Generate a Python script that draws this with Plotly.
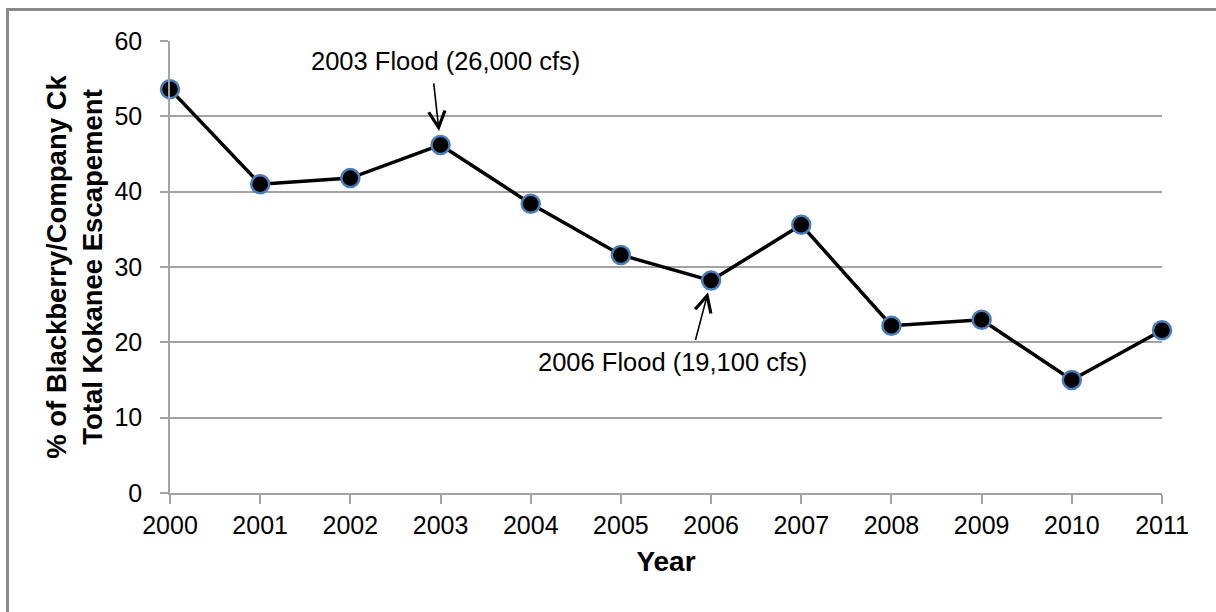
import plotly.graph_objects as go

# Share of total kokanee escapement counted in Blackberry/Company Creek, by year
years = [2000, 2001, 2002, 2003, 2004, 2005, 2006, 2007, 2008, 2009, 2010, 2011]
pct_escapement = [53.6, 41.0, 41.8, 46.2, 38.4, 31.6, 28.2, 35.6, 22.2, 23.0, 15.0, 21.6]

y_ticks = [0, 10, 20, 30, 40, 50, 60]

flood_notes = [
    # (year of flood, label, label x, label y, arrow tail offset px, standoff px)
    (2003, "2003 Flood (26,000 cfs)", 2003.06, 57.3, (-7, -63), 14),
    (2006, "2006 Flood (19,100 cfs)", 2005.57, 17.4, (-16, 61), 12),
]

FONT = "Liberation Sans, Arial, sans-serif"
GRID = "#a3a3a3"

W, H = 1216, 612
M_L, M_R, M_T, M_B = 170, 54, 41, 119

fig = go.Figure()
fig.add_trace(go.Scatter(
    x=years,
    y=pct_escapement,
    mode="lines+markers",
    line=dict(color="black", width=3.5),
    marker=dict(size=18, color="black", line=dict(color="#4a7ebb", width=2.5)),
    cliponaxis=False,
    showlegend=False,
))

for yr, label, lx, ly, (ax, ay), standoff in flood_notes:
    yv = pct_escapement[years.index(yr)]
    fig.add_annotation(
        x=yr, y=yv, text="", showarrow=True,
        ax=ax, ay=ay, axref="pixel", ayref="pixel",
        arrowhead=5, arrowsize=2.0, arrowwidth=1.6, arrowcolor="black",
        standoff=standoff,
    )
    fig.add_annotation(
        x=lx, y=ly, text=label, showarrow=False,
        xanchor="center", yanchor="middle",
        font=dict(family=FONT, size=25.5, color="black"),
    )

# outer chart frame
pw = W - M_L - M_R
ph = H - M_T - M_B
fig.add_shape(
    type="rect", xref="paper", yref="paper",
    x0=(7.5 - M_L) / pw, x1=(W + 40 - M_L) / pw,
    y0=-(H + 40 - (H - M_B)) / ph, y1=(H - M_B - 9.5) / ph,
    line=dict(color="#8a8a8a", width=3), fillcolor="rgba(0,0,0,0)",
    layer="below",
)

fig.update_layout(
    width=W, height=H,
    margin=dict(l=M_L, r=M_R, t=M_T, b=M_B),
    paper_bgcolor="white", plot_bgcolor="white",
    font=dict(family=FONT, color="black"),
    xaxis=dict(
        range=[2000, 2011], tickvals=years, ticktext=[str(y) for y in years],
        showgrid=False, zeroline=False,
        showline=True, linecolor=GRID, linewidth=1.5,
        ticks="outside", ticklen=9, tickcolor=GRID, tickwidth=1.5,
        tickfont=dict(family=FONT, size=25, color="black"),
        title=dict(text="<b>Year</b>", font=dict(family=FONT, size=28, color="black"), standoff=14),
    ),
    yaxis=dict(
        range=[0, 60], tickvals=y_ticks,
        showgrid=True, gridcolor=GRID, gridwidth=1.5,
        zeroline=False,
        showline=True, linecolor=GRID, linewidth=1.5,
        ticks="outside", ticklen=8, tickcolor=GRID, tickwidth=1.5,
        ticklabelstandoff=13,
        tickfont=dict(family=FONT, size=25, color="black"),
        title=dict(
            text="<b>% of Blackberry/Company Ck<br>Total Kokanee Escapement</b>",
            font=dict(family=FONT, size=27.5, color="black"), standoff=4,
        ),
    ),
)

fig.write_html("out.html")
